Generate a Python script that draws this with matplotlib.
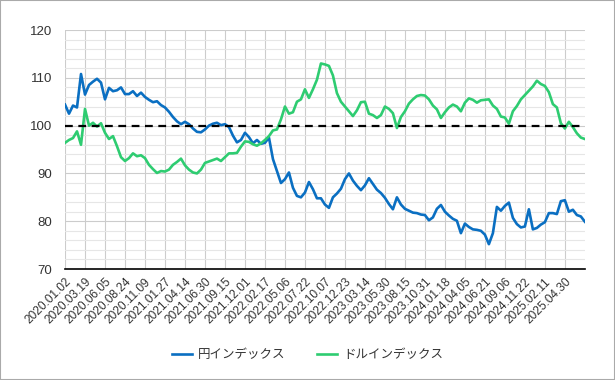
import numpy as np
import matplotlib
matplotlib.use("Agg")
import matplotlib.pyplot as plt

# tick labels every 55 trading days
tick_labels = ["2020.01.02", "2020.03.19", "2020.06.05", "2020.08.24", "2020.11.09",
               "2021.01.27", "2021.04.14", "2021.06.30", "2021.09.15", "2021.12.01",
               "2022.02.17", "2022.05.06", "2022.07.22", "2022.10.07", "2022.12.23",
               "2023.03.14", "2023.05.30", "2023.08.15", "2023.10.31", "2024.01.18",
               "2024.04.05", "2024.06.21", "2024.09.06", "2024.11.22", "2025.02.11",
               "2025.04.30"]
tick_step = 55
sample_step = 11  # values read every 11 trading days

yen_index = [104.4, 102.5, 104.2, 103.8, 110.8, 106.5, 108.5, 109.2, 109.8, 109.0,
             105.5, 107.9, 107.2, 107.4, 108.0, 106.6, 106.6, 107.2, 106.2, 106.9,
             106.0, 105.4, 104.9, 105.1, 104.3, 103.8, 102.9, 101.8, 100.9, 100.3,
             100.8, 100.3, 99.4, 98.7, 98.6, 99.2, 100.0, 100.4, 100.6, 100.1,
             100.3, 99.7, 97.9, 96.5, 97.0, 98.5, 97.6, 96.3, 97.0, 96.2,
             96.4, 97.5, 93.0, 90.5, 88.0, 88.8, 90.2, 87.0, 85.3, 85.0,
             86.0, 88.2, 86.7, 84.8, 84.8, 83.5, 82.8, 85.0, 85.8, 86.8,
             88.8, 90.0, 88.5, 87.4, 86.5, 87.5, 89.0, 87.8, 86.6, 85.9,
             84.9, 83.6, 82.5, 85.0, 83.5, 82.6, 82.2, 81.8, 81.7, 81.4,
             81.3, 80.2, 80.8, 82.6, 83.4, 82.0, 81.2, 80.5, 80.1, 77.5,
             79.5, 78.8, 78.3, 78.2, 78.0, 77.2, 75.2, 77.5, 83.0, 82.2,
             83.2, 83.9, 80.7, 79.4, 78.7, 78.9, 82.5, 78.3, 78.6, 79.3,
             79.8, 81.7, 81.7, 81.5, 84.2, 84.4, 82.0, 82.4, 81.3, 81.0,
             79.9]

dollar_index = [96.4, 97.0, 97.4, 98.8, 96.0, 103.5, 100.0, 100.6, 99.8, 100.5,
                98.5, 97.2, 97.8, 95.7, 93.4, 92.6, 93.2, 94.2, 93.6, 93.8,
                93.2, 91.8, 90.9, 90.1, 90.5, 90.4, 90.8, 91.8, 92.4, 93.1,
                91.7, 90.8, 90.2, 90.0, 90.8, 92.2, 92.5, 92.8, 93.1, 92.6,
                93.4, 94.2, 94.2, 94.3, 95.6, 96.7, 96.6, 96.1, 95.8, 96.3,
                97.0, 97.8, 99.0, 99.2, 101.3, 104.0, 102.5, 102.8, 105.0, 105.5,
                107.6, 105.8, 107.6, 109.6, 113.0, 112.8, 112.5, 110.5, 106.8, 105.0,
                104.0, 103.0, 102.0, 103.2, 104.9, 105.0, 102.5, 102.2, 101.6, 102.2,
                104.0, 103.5, 102.6, 99.5, 101.8, 103.0, 104.6, 105.5, 106.2, 106.4,
                106.3, 105.5, 104.2, 103.4, 101.6, 102.8, 103.8, 104.4, 104.0, 103.0,
                104.8, 105.7, 105.4, 104.8, 105.3, 105.4, 105.5, 104.2, 103.5, 101.9,
                101.7, 100.4, 103.0, 104.1, 105.5, 106.4, 107.3, 108.2, 109.4, 108.7,
                108.3, 107.0, 104.5, 103.8, 100.5, 99.4, 100.8, 99.7, 98.4, 97.5,
                97.2]

x = np.arange(len(yen_index)) * sample_step

fig = plt.figure(figsize=(6.15, 3.8), dpi=100)
ax = fig.add_axes([0.1057, 0.292, 0.8453, 0.629])

ax.plot(x, yen_index, color="#0a6fc2", linewidth=1.9, label="円インデックス", zorder=3)
ax.plot(x, dollar_index, color="#2ecc71", linewidth=1.9, label="ドルインデックス", zorder=3)
ax.axhline(100, color="black", linestyle=(0, (3.5, 2.5)), linewidth=1.6, zorder=4)

ax.set_xlim(0, x[-1])
ax.set_ylim(70, 120)
ax.set_yticks(range(70, 121, 10))
ax.set_yticks(range(70, 121, 2), minor=True)
ax.set_xticks(np.arange(len(tick_labels)) * tick_step)
ax.set_xticklabels(tick_labels, rotation=45, ha="right", rotation_mode="anchor",
                   fontsize=8.6, color="#333333", family="Liberation Sans")
for lab in ax.get_yticklabels():
    lab.set_family("Liberation Sans")
ax.tick_params(axis="y", which="both", length=0, pad=9, labelsize=9.5, labelcolor="#333333")
ax.tick_params(axis="x", length=0, pad=5)

ax.grid(True, which="major", color="#cccccc", linewidth=0.8)
ax.grid(True, which="minor", axis="y", color="#e6e6e6", linewidth=0.8)
ax.set_axisbelow(True)
for side in ["left", "right", "top"]:
    ax.spines[side].set_visible(False)
ax.spines["bottom"].set_color("black")
ax.spines["bottom"].set_linewidth(1.2)

leg = fig.legend(loc="center", bbox_to_anchor=(0.5, 0.066), ncol=2, frameon=False,
                 prop={"family": ["Noto Sans CJK JP", "DejaVu Sans"], "size": 9},
                 handlelength=1.6, columnspacing=2.5, handletextpad=0.5)
for t in leg.get_texts():
    t.set_color("#333333")

fig.patches.append(plt.Rectangle((0, 0), 1, 1, transform=fig.transFigure, fill=False,
                                 edgecolor="#aaaaaa", linewidth=1.5))

fig.savefig("out.png", dpi=100)
